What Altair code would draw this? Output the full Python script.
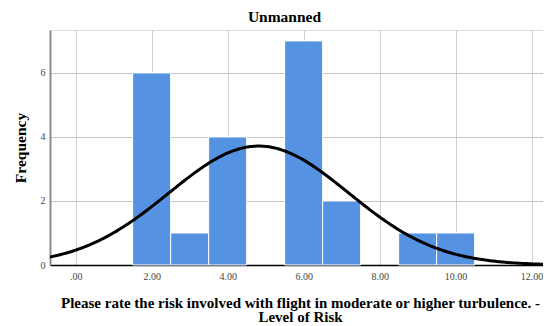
import altair as alt
import numpy as np
import pandas as pd

# Histogram data
bin_centers = [2, 3, 4, 6, 7, 9, 10]
counts = [6, 1, 4, 7, 2, 1, 1]
bin_width = 1.0
x_ticks = [0, 2, 4, 6, 8, 10, 12]
y_ticks = [0, 2, 4, 6]

title_text = "Unmanned"
x_title = ["Please rate the risk involved with flight in moderate or higher turbulence. -", "Level of Risk"]
y_title = "Frequency"

bars = pd.DataFrame({
    "x0": [c - bin_width / 2 for c in bin_centers],
    "x1": [c + bin_width / 2 for c in bin_centers],
    "count": counts,
})

# Normal curve fitted to the histogram (as SPSS draws it)
vals = np.repeat(bin_centers, counts).astype(float)
n = len(vals)
mean = vals.mean()
sd = vals.std(ddof=1)
xs = np.linspace(-0.7, 12.4, 300)
ys = n * bin_width / (sd * np.sqrt(2 * np.pi)) * np.exp(-0.5 * ((xs - mean) / sd) ** 2)
curve = pd.DataFrame({"x": xs, "y": ys})

XDOM = [-0.676, 12.30]
YDOM = [0, 7.34]
FONT = "Liberation Serif"

xscale = alt.Scale(domain=XDOM, nice=False, zero=False)
yscale = alt.Scale(domain=YDOM, nice=False)

xaxis = alt.Axis(values=x_ticks, format=".2f", labelExpr="replace(datum.label, /^0\\./, '.')",
                 ticks=False, grid=True, gridColor="#d0d0d0", gridWidth=1,
                 domainColor="#000000", domainWidth=1.5,
                 labelFont=FONT, labelFontSize=10, labelColor="#444444", labelPadding=6,
                 title=x_title, titleFont=FONT, titleFontSize=15, titleFontWeight="bold",
                 titleColor="#000000", titlePadding=14, titleLineHeight=14.5, titleX=250)
yaxis = alt.Axis(values=y_ticks, format="d", ticks=False, grid=True, gridColor="#c4c4c4", gridWidth=1,
                 domainColor="#8c8c8c", domainWidth=2,
                 labelFont=FONT, labelFontSize=10, labelColor="#444444", labelPadding=5,
                 title=y_title, titleFont=FONT, titleFontSize=15.5, titleFontWeight="bold",
                 titleColor="#000000", titlePadding=12)

bar_layer = alt.Chart(bars).mark_rect(color="#5593E2", stroke="white", strokeWidth=1).encode(
    x=alt.X("x0:Q", scale=xscale, axis=xaxis),
    x2="x1:Q",
    y=alt.Y("count:Q", scale=yscale, axis=yaxis),
    y2=alt.datum(0),
)

line_layer = alt.Chart(curve).mark_line(color="black", strokeWidth=3, clip=True).encode(
    x=alt.X("x:Q", scale=xscale),
    y=alt.Y("y:Q", scale=yscale),
)

chart = alt.layer(bar_layer, line_layer).properties(
    width=493, height=235,
    title=alt.TitleParams(title_text, font=FONT, fontSize=15.5, fontWeight="bold", color="#000000",
                          anchor="middle", dx=-12, offset=5),
    autosize=alt.AutoSizeParams(type="none"),
    padding={"left": 42, "top": 22, "right": 0, "bottom": 61},
).configure_view(stroke=None).configure(background="white")

chart.save("out.html", embed_options={"renderer": "svg", "actions": False})
